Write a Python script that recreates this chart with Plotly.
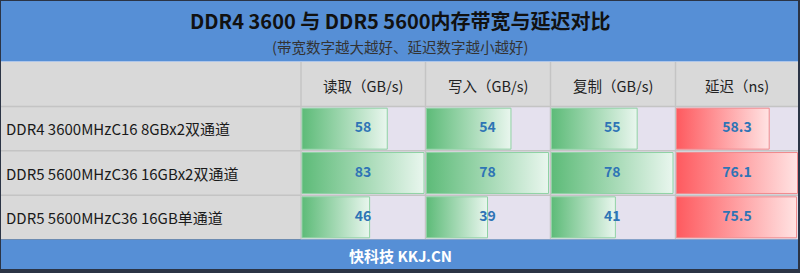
import plotly.graph_objects as go

W, H = 800, 273

title = "DDR4 3600 与 DDR5 5600内存带宽与延迟对比"
subtitle = "(带宽数字越大越好、延迟数字越小越好)"
footer = "快科技 KKJ.CN"
configs = ["DDR4 3600MHzC16 8GBx2双通道", "DDR5 5600MHzC36 16GBx2双通道", "DDR5 5600MHzC36 16GB单通道"]
metrics = ["读取（GB/s)", "写入（GB/s)", "复制（GB/s)", "延迟（ns)"]
read_bw = [58, 83, 46]
write_bw = [54, 78, 39]
copy_bw = [55, 78, 41]
latency = [58.3, 76.1, 75.5]
latency_labels = ["58.3", "76.1", "75.5"]

series = [read_bw, write_bw, copy_bw, latency]
labels = [[str(v) for v in read_bw], [str(v) for v in write_bw], [str(v) for v in copy_bw], latency_labels]

FONT = "Noto Sans CJK SC"
BLUE = "#568fd6"
DARK = "#2b3445"
GRAY = "#d9d9d9"
CELL = "#e5e1ee"
GRID = "#c4c4c4"
VAL = "#2e74b5"

green_scale = [[0, "#5dbb78"], [1, "#e9f6ee"]]
red_scale = [[0, "#fe5a5f"], [1, "#ffe3e3"]]
scales = [green_scale, green_scale, green_scale, red_scale]
borders = ["#8fd2a4", "#8fd2a4", "#8fd2a4", "#f08a8d"]


def px(x):
    return x / W


def py(y):
    return 1 - y / H


col_edges = [301, 425.5, 550.5, 675.5, 798]
bar_px = [(302, 424), (426.5, 548.5), (551.5, 673), (676.5, 797.5)]
row_top, row_bot = 106.5, 239.5
row_h = (row_bot - row_top) / 3
half = 0.462

fig = go.Figure()
shapes = []
# banner
shapes.append(dict(type="rect", xref="paper", yref="paper", x0=px(1), x1=px(798), y0=py(61), y1=py(1),
                   fillcolor=BLUE, line_width=0, layer="below"))
shapes.append(dict(type="rect", xref="paper", yref="paper", x0=px(1), x1=px(798), y0=py(62), y1=py(61),
                   fillcolor="#aec6ea", line_width=0, layer="below"))
# gray table area
shapes.append(dict(type="rect", xref="paper", yref="paper", x0=px(1), x1=px(798), y0=py(row_bot), y1=py(62),
                   fillcolor=GRAY, line_width=0, layer="below"))
# data cells
for i in range(4):
    for r in range(3):
        t = row_top + r * row_h
        shapes.append(dict(type="rect", xref="paper", yref="paper", x0=px(col_edges[i]), x1=px(col_edges[i + 1]),
                           y0=py(t + row_h), y1=py(t), fillcolor=CELL, line_width=0, layer="below"))
# grid lines
for e in col_edges[:-1]:
    shapes.append(dict(type="line", xref="paper", yref="paper", x0=px(e), x1=px(e), y0=py(row_bot), y1=py(62),
                       line=dict(color=GRID, width=1.5), layer="below"))
for r in range(3):
    y = row_top + r * row_h
    shapes.append(dict(type="line", xref="paper", yref="paper", x0=px(1), x1=px(798), y0=py(y), y1=py(y),
                       line=dict(color=GRID, width=1.5), layer="below"))
# footer
shapes.append(dict(type="rect", xref="paper", yref="paper", x0=px(1), x1=px(798), y0=py(269), y1=py(row_bot),
                   fillcolor=BLUE, line_width=0, layer="below"))

layout_axes = {}
for i, vals in enumerate(series):
    a, b = bar_px[i]
    vmax = max(vals)
    unit = vmax / (b - a)
    name = "xaxis" if i == 0 else f"xaxis{i + 1}"
    layout_axes[name] = dict(domain=[px(a - 1), px(b + 1)], range=[-unit, vmax + unit], visible=False,
                             anchor="y", fixedrange=True)
    xref = "x" if i == 0 else f"x{i + 1}"
    for r, v in enumerate(vals):
        fig.add_trace(go.Scatter(
            x=[0, v, v, 0, 0], y=[r - half, r - half, r + half, r + half, r - half],
            mode="lines", fill="toself", line=dict(color=borders[i], width=1),
            fillgradient=dict(type="horizontal", colorscale=scales[i]),
            xaxis=xref, yaxis="y", hoverinfo="skip", showlegend=False))
    fig.add_trace(go.Scatter(
        x=[vmax / 2] * 3, y=list(range(3)), mode="text", text=labels[i],
        textfont=dict(family=FONT, size=14, color=VAL, weight="bold"), textposition="middle center",
        xaxis=xref, yaxis="y", hoverinfo="skip", showlegend=False, cliponaxis=False))

annotations = []
annotations.append(dict(text=f"<b>{title}</b>", x=0.5, y=py(21), xref="paper", yref="paper", showarrow=False,
                        font=dict(family=FONT, size=20, color="#111111"), xanchor="center", yanchor="middle"))
annotations.append(dict(text=subtitle, x=0.5, y=py(46), xref="paper", yref="paper", showarrow=False,
                        font=dict(family=FONT, size=14.5, color="#333333"), xanchor="center", yanchor="middle"))
for i, m in enumerate(metrics):
    cx = (col_edges[i] + col_edges[i + 1]) / 2
    annotations.append(dict(text=m, x=px(cx), y=py(85), xref="paper", yref="paper", showarrow=False,
                            font=dict(family=FONT, size=14.5, color="#222222"), xanchor="center", yanchor="middle"))
for r, c in enumerate(configs):
    annotations.append(dict(text=c, x=px(4), y=r, xref="paper", yref="y", showarrow=False,
                            font=dict(family=FONT, size=15, color="#1a1a1a"), xanchor="left", yanchor="middle"))
annotations.append(dict(text=f"<b>{footer}</b>", x=0.5, y=py(255), xref="paper", yref="paper", showarrow=False,
                        font=dict(family=FONT, size=15, color="#ffffff"), xanchor="center", yanchor="middle"))

fig.update_layout(
    width=W, height=H, margin=dict(l=0, r=0, t=0, b=0),
    paper_bgcolor=DARK, plot_bgcolor="rgba(0,0,0,0)",
    shapes=shapes, annotations=annotations,
    yaxis=dict(domain=[py(row_bot), py(row_top)], range=[2.5, -0.5], visible=False, fixedrange=True),
    **layout_axes,
)

fig.write_html("out.html", config={"displayModeBar": False})
